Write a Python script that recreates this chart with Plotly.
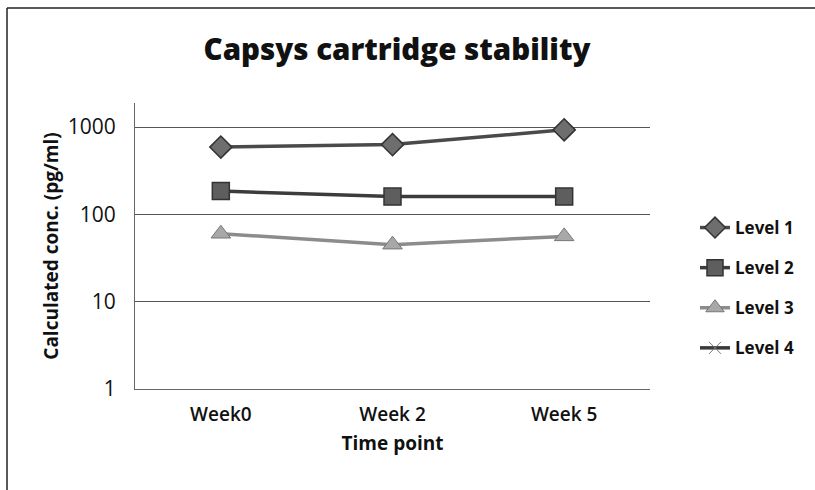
import plotly.graph_objects as go

categories = ["Week0", "Week 2", "Week 5"]
level1 = [590, 630, 930]
level2 = [185, 160, 160]
level3 = [60, 45, 56]
level4 = [None, None, None]
series_names = ["Level 1", "Level 2", "Level 3", "Level 4"]
y_tickvals = [1, 10, 100, 1000]
y_ticktext = ["1", "10", "100", "1000"]

FONT = "Open Sans"

styles = [
    dict(line=dict(color="#4a4a4a", width=3.5),
         marker=dict(symbol="diamond", size=17, color="#6e6e6e", line=dict(color="#333", width=1.5))),
    dict(line=dict(color="#3c3c3c", width=3.5),
         marker=dict(symbol="square", size=17, color="#5e5e5e", line=dict(color="#333", width=1.5))),
    dict(line=dict(color="#8c8c8c", width=3.5),
         marker=dict(symbol="triangle-up", size=17, color="#a8a8a8", line=dict(color="#777", width=1))),
    dict(line=dict(color="#3a3a3a", width=3.5),
         marker=dict(symbol="x-thin", size=12, color="#777", line=dict(color="#777", width=1))),
]

fig = go.Figure()
for name, ys, st in zip(series_names, [level1, level2, level3, level4], styles):
    fig.add_trace(go.Scatter(x=categories, y=ys, name=name, mode="lines+markers",
                             line=st["line"], marker=st["marker"], legendgroup=name))

fig.update_layout(
    width=815, height=490,
    margin=dict(l=135, r=165, t=103, b=101),
    paper_bgcolor="white", plot_bgcolor="white",
    title=dict(text="Capsys cartridge stability", x=(397 - 135) / 515, xref="paper",
               xanchor="center", y=1 - 50 / 490, yanchor="middle",
               font=dict(family=FONT, size=29.5, color="#111", weight=800)),
    showlegend=True,
    legend=dict(x=(695 - 135) / 515, xanchor="left", y=(389 - 210) / 286, yanchor="top",
                font=dict(family=FONT, size=17, color="#111", weight="bold"),
                tracegroupgap=15, bgcolor="rgba(0,0,0,0)"),
    font=dict(family=FONT, color="#111"),
)

fig.update_xaxes(
    type="category", range=[-0.5, 2.5],
    showline=True, linecolor="#666", linewidth=1, mirror=False,
    showgrid=False, ticks="", ticklabelstandoff=8,
    tickfont=dict(family=FONT, size=19, color="#111", weight=600),
    title=dict(text="<b>Time point</b>", font=dict(family=FONT, size=19, color="#111"), standoff=10),
)
fig.update_yaxes(
    type="log", range=[0, 3.276],
    tickvals=y_tickvals, ticktext=y_ticktext,
    showline=True, linecolor="#666", linewidth=1,
    showgrid=True, gridcolor="#555", gridwidth=1,
    ticks="", zeroline=False, ticklabelstandoff=14,
    tickfont=dict(family=FONT, size=21, color="#111"),
    title=dict(text="<b>Calculated conc. (pg/ml)</b>", font=dict(family=FONT, size=19, color="#111"), standoff=4),
)

# outer frame (top and left edges visible in the scan)
fig.add_shape(type="line", xref="paper", yref="paper",
              x0=(7 - 135) / 515, x1=(815 - 135) / 515, y0=(389 - 8) / 286, y1=(389 - 8) / 286,
              line=dict(color="#222", width=1.5))
fig.add_shape(type="line", xref="paper", yref="paper",
              x0=(7 - 135) / 515, x1=(7 - 135) / 515, y0=(389 - 8) / 286, y1=(389 - 490) / 286,
              line=dict(color="#222", width=1.5))

fig.write_html("out.html", config={"displayModeBar": False},
               post_script="document.body.style.margin='0';")
